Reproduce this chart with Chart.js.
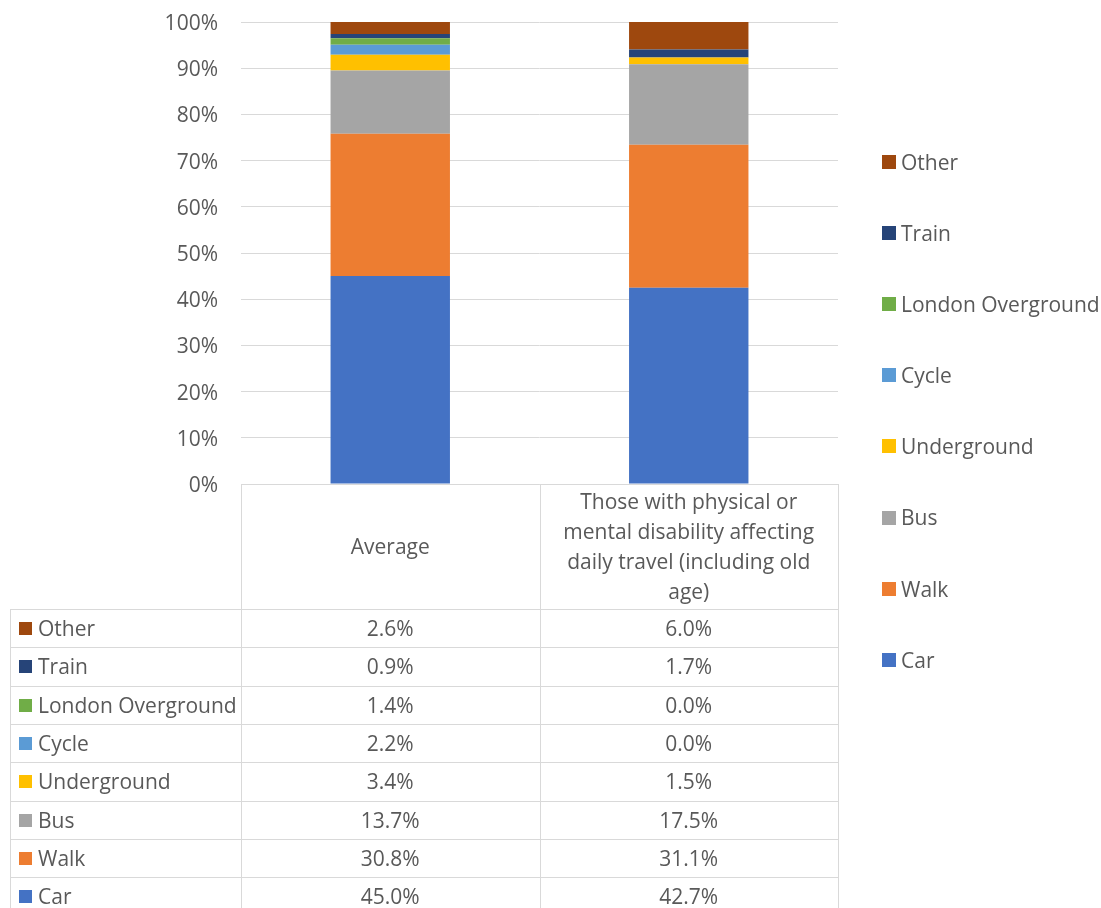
<!DOCTYPE html>
<html>
<head>
<meta charset="utf-8">
<script src="https://cdn.jsdelivr.net/npm/chart.js@4/dist/chart.umd.min.js"></script>
<style>
  html, body { margin: 0; padding: 0; background: #fff; }
  #wrap { width: 1101px; height: 908px; }
</style>
</head>
<body>
<div id="wrap"><canvas id="travelChart" width="1101" height="908"></canvas></div>
<script>
// columns of the chart / table
const groups = [
  'Average',
  ['Those with physical or', 'mental disability affecting', 'daily travel (including old', 'age)']
];

// travel modes, bottom of the stack first
const modes = ['Car', 'Walk', 'Bus', 'Underground', 'Cycle', 'London Overground', 'Train', 'Other'];

const averageShare    = [45.0, 30.8, 13.7, 3.4, 2.2, 1.4, 0.9, 2.6];
const disabilityShare = [42.7, 31.1, 17.5, 1.5, 0.0, 0.0, 1.7, 6.0];

const yTicks = [0, 10, 20, 30, 40, 50, 60, 70, 80, 90, 100];

const modeColours = ['#4472C4', '#ED7D31', '#A5A5A5', '#FFC000', '#5B9BD5', '#70AD47', '#264478', '#9E480E'];

const FONT_FAMILY = '"Open Sans", "DejaVu Sans", sans-serif';
const FONT_SIZE = 21;
const TEXT_COLOUR = '#595959';
const LINE_COLOUR = '#D9D9D9';
const TEXT_NUDGE = 2; // canvas 'middle' sits a touch high for this font

// 100% stacked columns: each column is scaled to its own total
function toPercent(values) {
  const total = values.reduce((a, b) => a + b, 0);
  return values.map(v => v / total * 100);
}
const averagePct = toPercent(averageShare);
const disabilityPct = toPercent(disabilityShare);

const datasets = modes.map((mode, i) => ({
  label: mode,
  data: [averagePct[i], disabilityPct[i]],
  backgroundColor: modeColours[i],
  borderWidth: 0,
  barPercentage: 0.4,
  categoryPercentage: 1.0
}));

function fmt(v) {
  return v.toFixed(1) + '%';
}

// data table under the plot plus the legend on the right
const tableAndLegend = {
  id: 'tableAndLegend',
  afterDraw(chart) {
    const ctx = chart.ctx;
    const area = chart.chartArea;
    const xs = chart.scales.x;

    const tableLeft = 10;
    const colMid = (xs.getPixelForValue(0) + xs.getPixelForValue(1)) / 2;
    const colEdges = [area.left, colMid, area.right];
    const headTop = area.bottom;
    const headBottom = headTop + 125;
    const rowH = 38.3;
    const rows = modes.map((m, i) => i).reverse();
    const tableBottom = headBottom + rowH * rows.length;
    const px = v => Math.round(v) + 0.5;

    ctx.save();
    ctx.strokeStyle = LINE_COLOUR;
    ctx.lineWidth = 1;
    ctx.beginPath();
    // header block
    ctx.moveTo(area.left, px(headTop));
    ctx.lineTo(area.right, px(headTop));
    colEdges.forEach(x => {
      ctx.moveTo(px(x), headTop);
      ctx.lineTo(px(x), tableBottom);
    });
    // rows
    ctx.moveTo(px(tableLeft), headBottom);
    ctx.lineTo(px(tableLeft), tableBottom);
    for (let r = 0; r <= rows.length; r++) {
      const y = px(headBottom + r * rowH);
      ctx.moveTo(tableLeft, y);
      ctx.lineTo(area.right, y);
    }
    ctx.stroke();

    ctx.font = FONT_SIZE + 'px ' + FONT_FAMILY;
    ctx.fillStyle = TEXT_COLOUR;
    ctx.textBaseline = 'middle';

    // header labels
    ctx.textAlign = 'center';
    groups.forEach((g, c) => {
      const lines = Array.isArray(g) ? g : [g];
      const cx = xs.getPixelForValue(c);
      const cy = (headTop + headBottom) / 2 + TEXT_NUDGE;
      const lh = 30;
      lines.forEach((line, k) => {
        ctx.fillText(line, cx, cy + (k - (lines.length - 1) / 2) * lh);
      });
    });

    // body rows
    rows.forEach((i, r) => {
      const cy = headBottom + rowH * (r + 0.5);
      ctx.fillStyle = modeColours[i];
      ctx.fillRect(19, Math.round(cy - 6), 13, 13);
      ctx.fillStyle = TEXT_COLOUR;
      ctx.textAlign = 'left';
      ctx.fillText(modes[i], 38, cy + TEXT_NUDGE);
      ctx.textAlign = 'center';
      ctx.fillText(fmt(averageShare[i]), xs.getPixelForValue(0), cy + TEXT_NUDGE);
      ctx.fillText(fmt(disabilityShare[i]), xs.getPixelForValue(1), cy + TEXT_NUDGE);
    });

    // legend
    rows.forEach((i, k) => {
      const cy = 162 + k * 71.1;
      ctx.fillStyle = modeColours[i];
      ctx.fillRect(882, Math.round(cy - 7), 14, 14);
      ctx.fillStyle = TEXT_COLOUR;
      ctx.textAlign = 'left';
      ctx.fillText(modes[i], 901, cy + TEXT_NUDGE);
    });
    ctx.restore();
  }
};

new Chart(document.getElementById('travelChart'), {
  type: 'bar',
  data: {
    labels: groups,
    datasets: datasets
  },
  options: {
    responsive: false,
    animation: false,
    devicePixelRatio: 1,
    layout: {
      padding: { left: 0, top: 22, right: 263, bottom: 424 }
    },
    plugins: {
      legend: { display: false },
      tooltip: { enabled: false }
    },
    scales: {
      x: {
        stacked: true,
        display: false
      },
      y: {
        stacked: true,
        min: 0,
        max: 100,
        afterBuildTicks: axis => {
          axis.ticks = yTicks.map(v => ({ value: v }));
        },
        afterFit: axis => {
          axis.width = 241;
          axis.paddingTop = 0;
          axis.paddingBottom = 0;
        },
        border: { display: false },
        grid: {
          color: LINE_COLOUR,
          lineWidth: 1,
          drawTicks: false
        },
        ticks: {
          padding: 23,
          labelOffset: TEXT_NUDGE,
          color: TEXT_COLOUR,
          font: { family: FONT_FAMILY, size: FONT_SIZE },
          callback: v => v + '%'
        }
      }
    }
  },
  plugins: [tableAndLegend]
});
</script>
</body>
</html>
